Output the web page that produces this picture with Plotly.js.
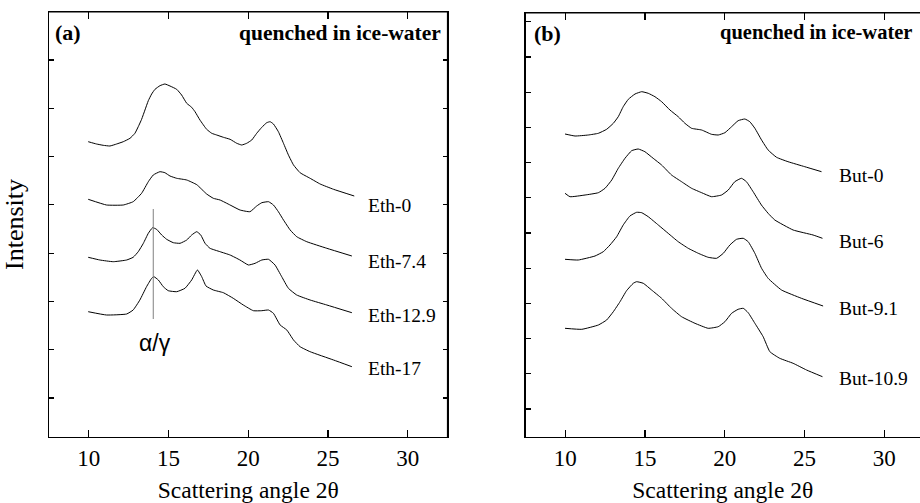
<!DOCTYPE html>
<html>
<head>
<meta charset="utf-8">
<script src="https://cdn.plot.ly/plotly-3.0.1.min.js"></script>
<style>html,body{margin:0;padding:0;background:#fff;}#chart{width:920px;height:503px;}</style>
</head>
<body>
<div id="chart"></div>
<script>
// ---------- Panel (a): ethylene copolymers (2θ in degrees, intensity in arbitrary units, offsets included) ----------
const ethNames = ["Eth-0", "Eth-7.4", "Eth-12.9", "Eth-17"];
const eth0X = [9.96, 10.48, 10.90, 11.32, 11.74, 12.16, 12.58, 12.89, 13.10, 13.31, 13.52, 13.73, 13.94, 14.15, 14.46, 14.77, 15.09, 15.51, 15.82, 16.14, 16.45, 16.66, 16.97, 17.39, 17.71, 18.02, 18.44, 18.86, 19.28, 19.59, 19.90, 20.22, 20.53, 20.85, 21.16, 21.37, 21.58, 21.89, 22.21, 22.52, 22.84, 23.25, 23.88, 24.51, 25.35, 26.65];
const eth0Y = [295.3, 293, 291.7, 291, 293, 295.3, 298.7, 303.7, 310.3, 317.7, 327, 336.3, 343, 347.7, 351.3, 353, 351, 347.7, 342, 333.7, 329.7, 325.3, 317, 307.7, 303.7, 302, 299.7, 297.7, 293.7, 292, 293.7, 297, 303.7, 309.7, 314.3, 315.3, 313, 305.3, 293.7, 282, 272, 264.3, 258.7, 253, 247.7, 241];
const eth74X = [9.96, 11.11, 12.16, 12.78, 13.31, 13.73, 14.04, 14.46, 14.77, 15.09, 15.51, 16.14, 16.77, 17.39, 17.81, 18.23, 18.86, 19.48, 20.11, 20.53, 20.85, 21.27, 21.58, 21.89, 22.21, 22.63, 23.04, 23.67, 24.93, 26.50];
const eth74Y = [237.7, 232, 232, 235.3, 243.7, 255.3, 262, 265.3, 264.3, 261, 258.7, 257, 252.3, 243, 238.7, 237, 232, 227, 225.3, 231, 234.3, 235.3, 232, 225.3, 217, 207, 200.3, 195.3, 188.7, 181];
const eth129X = [9.96, 10.69, 11.53, 12.37, 12.78, 13.10, 13.42, 13.73, 14.00, 14.25, 14.57, 14.88, 15.30, 15.72, 16.14, 16.45, 16.77, 17.02, 17.29, 17.60, 18.23, 18.86, 19.48, 20.01, 20.43, 20.85, 21.27, 21.68, 22.10, 22.52, 23.04, 23.88, 24.93, 26.50];
const eth129Y = [179.7, 177, 175.3, 177, 179.7, 185.3, 193.7, 203.7, 209.3, 207.7, 202, 197.7, 194.3, 193.7, 197, 202, 205.3, 202, 193.7, 188.7, 185.3, 182, 177, 172, 173.7, 177, 177.7, 172, 160.3, 148.7, 142, 137, 132, 124.3];
const eth17X = [9.96, 11.11, 12.37, 12.78, 13.20, 13.62, 13.94, 14.08, 14.36, 14.67, 14.98, 15.51, 16.03, 16.45, 16.81, 17.08, 17.35, 17.81, 18.44, 19.06, 19.69, 20.32, 20.85, 21.27, 21.58, 22.00, 22.42, 22.84, 23.25, 23.88, 25.35, 26.50];
const eth17Y = [125.3, 122, 123, 127, 137, 150.3, 158.7, 160.3, 157, 150.3, 146.3, 145.3, 148.7, 157, 167, 160.3, 151, 147, 144.3, 138.7, 132, 126.3, 126.3, 127, 123.7, 112, 107, 97, 90.3, 85.3, 77, 70.3];
const ethLabelY = [232, 176, 122, 69];

// α/γ marker line (2θ, intensity from-to)
const alphaGammaX = 14.04;
const alphaGammaYRange = [118, 228];

// ---------- Panel (b): butene copolymers ----------
const butNames = ["But-0", "But-6", "But-9.1", "But-10.9"];
const but0X = [9.98, 10.61, 11.44, 12.07, 12.59, 13.01, 13.32, 13.63, 13.95, 14.37, 14.79, 15.20, 15.62, 16.04, 16.56, 17.08, 17.50, 17.92, 18.55, 19.17, 19.59, 20.01, 20.43, 20.84, 21.26, 21.57, 21.89, 22.31, 22.72, 23.25, 23.97, 25.02, 26.07];
const but0Y = [303, 301, 302, 303.7, 307.7, 313.7, 320.3, 330.3, 337.7, 343, 345.3, 343.7, 340.3, 335.3, 327, 320.3, 313.7, 308.7, 307, 302.7, 302, 304.3, 310.3, 316.3, 318, 315.3, 308.7, 297, 287, 279.7, 275.3, 270.3, 265.3];
const but6X = [9.98, 10.29, 11.24, 12.07, 12.49, 12.91, 13.32, 13.74, 14.16, 14.57, 14.99, 15.51, 16.04, 16.66, 17.29, 17.92, 18.55, 19.17, 19.80, 20.22, 20.63, 21.05, 21.36, 21.78, 22.30, 22.72, 23.14, 24.29, 25.54, 26.13];
const but6Y = [243.7, 240.3, 242, 244.3, 248.7, 257, 268.7, 278.7, 286.3, 288, 285.3, 278.7, 272, 262, 255.3, 248.7, 244.3, 240.3, 242, 247, 255.3, 258.7, 255.3, 245.3, 232, 223.7, 217, 207, 202, 198.7];
const but91X = [9.98, 10.81, 11.86, 12.38, 12.80, 13.22, 13.63, 14.05, 14.47, 14.79, 15.20, 15.83, 16.45, 17.08, 17.71, 18.34, 18.96, 19.49, 19.91, 20.32, 20.74, 21.16, 21.47, 21.89, 22.31, 22.72, 23.56, 24.81, 26.17];
const but91Y = [177.7, 177, 181, 185.3, 192, 200.3, 212, 221, 224.7, 224.3, 220.3, 212, 203.7, 195.3, 188.7, 183.7, 179.7, 178.7, 183.7, 192, 197.7, 198.7, 195.3, 183.7, 168.7, 158.7, 147, 138.7, 131];
const but109X = [9.98, 11.03, 12.07, 12.59, 13.01, 13.43, 13.84, 14.26, 14.47, 14.89, 15.41, 16.04, 16.66, 17.29, 18.13, 18.96, 19.59, 20.01, 20.43, 20.84, 21.16, 21.47, 21.89, 22.41, 22.83, 23.45, 24.29, 25.13, 26.13];
const but109Y = [108.7, 107.7, 112, 117, 125.3, 135.3, 146.3, 153.7, 155.3, 153.7, 147, 138.7, 128.7, 120.3, 113.7, 108.7, 110.3, 115.3, 123.7, 127.7, 128.7, 124.3, 113.7, 100.3, 85.3, 78.7, 73.7, 67, 60.3];
const butLabelY = [262, 196, 129, 59];

const panelTags = ["(a)", "(b)"];
const condition = "quenched in ice-water";
const xTitle = "Scattering angle 2θ";
const yTitle = "Intensity";

// ---------- build ----------
(function () {
const serif = "Liberation Serif, Times New Roman, serif";
const lineStyle = {color: "#000", width: 1, shape: "spline", smoothing: 0.4};
const ethSeries = [[eth0X, eth0Y], [eth74X, eth74Y], [eth129X, eth129Y], [eth17X, eth17Y]];
const butSeries = [[but0X, but0Y], [but6X, but6Y], [but91X, but91Y], [but109X, but109Y]];

const traces = [];
ethSeries.forEach((s, i) => traces.push({x: s[0], y: s[1], name: ethNames[i], type: "scatter", mode: "lines", line: lineStyle, xaxis: "x", yaxis: "y"}));
butSeries.forEach((s, i) => traces.push({x: s[0], y: s[1], name: butNames[i], type: "scatter", mode: "lines", line: lineStyle, xaxis: "x2", yaxis: "y2"}));

const W = 920, H = 503;
const aL = 49, aR = 447.5, bL = 525.5, topA = 12, topB = 13, bottomPx = 437;
const xRangeA = [7.5, 32.5];
const xRangeB = [7.5, 7.5 + (W - bL) / ((aR - aL) / 25)];
const yRangeA = [0, 425];
const yRangeB = [0, 424];
const domA = {x: [aL / W, aR / W], y: [1 - bottomPx / H, 1 - topA / H]};
const domB = {x: [bL / W, 1], y: [1 - bottomPx / H, 1 - topB / H]};

const tickFont = {family: serif, size: 23, color: "#000"};
const baseX = {
  showgrid: false, zeroline: false, showline: true, linecolor: "#000", linewidth: 1.2, mirror: "allticks",
  ticks: "inside", ticklen: 7, tickwidth: 1.2, tickcolor: "#000",
  tickmode: "linear", tick0: 10, dtick: 5, tickfont: tickFont,
  title: {text: xTitle, font: {family: serif, size: 23.5, color: "#000"}}
};
const baseY = {
  showgrid: false, zeroline: false, showline: true, linecolor: "#000", linewidth: 1.2,
  ticks: "inside", ticklen: 5, tickwidth: 1.2, tickcolor: "#000", showticklabels: false, tickmode: "linear"
};

const frame = {color: "#000", width: 1.2};
const layout = {
  width: W, height: H,
  margin: {l: 0, r: 0, t: 0, b: 0},
  showlegend: false,
  xaxis: Object.assign({}, baseX, {domain: domA.x, range: xRangeA}),
  yaxis: Object.assign({}, baseY, {domain: domA.y, range: yRangeA, tick0: 39, dtick: 48.3, mirror: "allticks",
    title: {text: yTitle, font: {family: serif, size: 26, color: "#000"}}}),
  xaxis2: Object.assign({}, baseX, {domain: domB.x, range: xRangeB, anchor: "y2"}),
  yaxis2: Object.assign({}, baseY, {domain: domB.y, range: yRangeB, tick0: 28, dtick: 35.2, anchor: "x2"}),
  shapes: [
    {type: "line", xref: "x", yref: "y", x0: alphaGammaX, x1: alphaGammaX, y0: alphaGammaYRange[0], y1: alphaGammaYRange[1], line: {color: "#808080", width: 1}},
    {type: "line", xref: "paper", yref: "paper", x0: domA.x[0], x1: domA.x[1], y0: domA.y[1], y1: domA.y[1], line: frame, layer: "above"},
    {type: "line", xref: "paper", yref: "paper", x0: domA.x[1], x1: domA.x[1], y0: domA.y[0], y1: domA.y[1], line: frame, layer: "above"},
    {type: "line", xref: "paper", yref: "paper", x0: domB.x[0], x1: domB.x[1], y0: domB.y[1], y1: domB.y[1], line: frame, layer: "above"}
  ],
  annotations: []
};

const ann = layout.annotations;
const tagFont = {family: serif, size: 22, color: "#000"};
const condFontA = {family: serif, size: 21.5, color: "#000"};
const condFontB = {family: serif, size: 20.5, color: "#000"};
ann.push({xref: "x", yref: "y", x: 7.75, y: 404, text: "<b>" + panelTags[0] + "</b>", showarrow: false, xanchor: "left", yanchor: "middle", font: tagFont});
ann.push({xref: "x", yref: "y", x: 32.2, y: 404, text: "<b>" + condition + "</b>", showarrow: false, xanchor: "right", yanchor: "middle", font: condFontA});
ann.push({xref: "x2", yref: "y2", x: 7.91, y: 404, text: "<b>" + panelTags[1] + "</b>", showarrow: false, xanchor: "left", yanchor: "middle", font: tagFont});
ann.push({xref: "x2", yref: "y2", x: 31.85, y: 405, text: "<b>" + condition + "</b>", showarrow: false, xanchor: "right", yanchor: "middle", font: condFontB});
const labelFont = {family: serif, size: 19.5, color: "#000"};
ethNames.forEach((n, i) => ann.push({xref: "x", yref: "y", x: 27.4, y: ethLabelY[i], text: n, showarrow: false, xanchor: "left", yanchor: "middle", font: labelFont}));
butNames.forEach((n, i) => ann.push({xref: "x2", yref: "y2", x: 27.07, y: butLabelY[i], text: n, showarrow: false, xanchor: "left", yanchor: "middle", font: labelFont}));
ann.push({xref: "x", yref: "y", x: 14.15, y: 94, text: "α/γ", showarrow: false, xanchor: "center", yanchor: "middle", font: {family: "Liberation Sans, Arial, sans-serif", size: 23, color: "#000"}});

Plotly.newPlot("chart", traces, layout, {staticPlot: true, displayModeBar: false});
})();
</script>
</body>
</html>
